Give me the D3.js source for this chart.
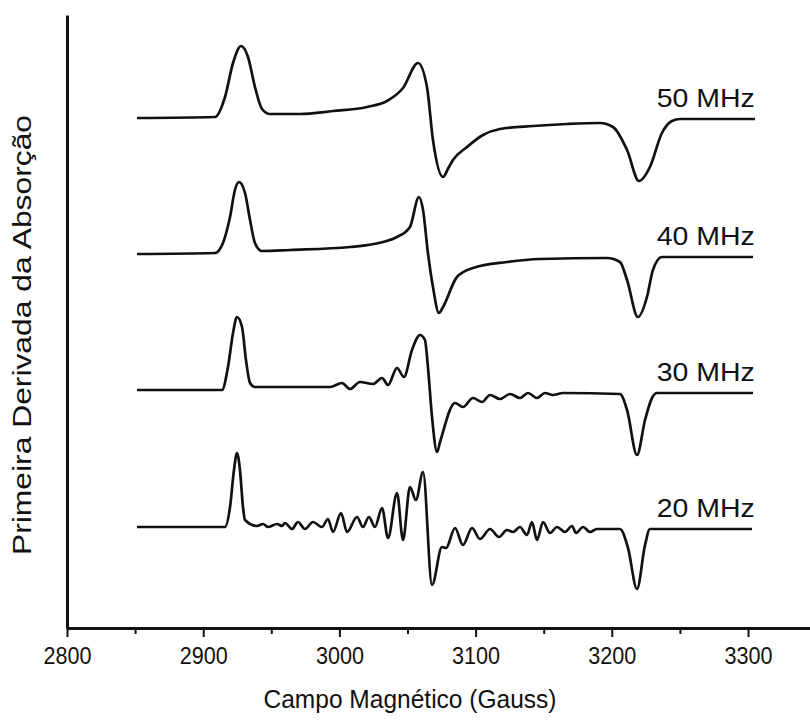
<!DOCTYPE html>
<html>
<head>
<meta charset="utf-8">
<script src="https://cdn.jsdelivr.net/npm/d3@7"></script>
<style>
  body { margin: 0; background: #fff; }
  svg { display: block; }
  text { font-family: "Liberation Sans", Arial, sans-serif; fill: #111; }
</style>
</head>
<body>
<div id="chart"></div>
<script>
// EPR spectra, first derivative, at four modulation frequencies
// field in Gauss, signal in arbitrary units relative to each baseline

const trace50 = [
  [2851.4, 0], [2908.7, 0.1], [2916.0, 2.1], [2921.9, 5.5], [2927.8, 7.2], [2932.9, 6.1],
  [2938.0, 3.1], [2943.2, 0.9], [2949.0, 0.4], [2971.1, 0.4], [2995.3, 0.7], [3020.3, 1.1],
  [3034.9, 1.7], [3046.7, 3.0], [3057.7, 5.5], [3064.3, 3.1], [3068.7, -2.2], [3076.1, -5.9],
  [3080.0, -5.0], [3083.4, -4.2], [3093.7, -2.9], [3105.4, -1.7], [3117.9, -1.1], [3142.1, -0.8],
  [3167.1, -0.6], [3191.3, -0.5], [3200.9, -0.9], [3211.2, -3.2], [3220.0, -6.3], [3228.0, -4.9],
  [3236.8, -1.5], [3244.2, -0.3], [3250.1, -0.1], [3305.1, -0.1]
];

const trace40 = [
  [2851.4, 0], [2908.7, 0.1], [2914.5, 1.1], [2919.7, 3.7], [2923.3, 6.4], [2926.3, 7.2],
  [2930.7, 6.1], [2934.4, 3.4], [2938.0, 1.1], [2943.2, 0.3], [2963.7, 0.4], [3007.8, 0.7],
  [3032.0, 1.2], [3042.3, 1.7], [3051.8, 2.7], [3058.4, 5.7], [3061.4, 4.4], [3065.0, 0.1],
  [3068.7, -3.3], [3073.1, -5.9], [3076.1, -5.3], [3086.3, -2.3], [3098.1, -1.4], [3123.0, -0.8],
  [3147.3, -0.5], [3196.5, -0.4], [3206.0, -0.8], [3211.2, -2.6], [3219.2, -6.3], [3225.8, -4.3],
  [3230.2, -1.6], [3236.8, -0.3], [3303.7, -0.3]
];

const trace30 = [
  [2851.4, 0], [2913.8, 0], [2918.2, 2.3], [2921.9, 5.7], [2924.8, 7.3], [2928.5, 6.3],
  [2931.4, 3.0], [2934.4, 0.7], [2938.0, 0.3], [2963.7, 0.3], [2993.1, 0.3], [3001.9, 0.7],
  [3007.8, 0.1], [3015.1, 0.8], [3024.7, 0.6], [3031.3, 1.2], [3035.7, 0.5], [3042.3, 2.2],
  [3047.4, 1.3], [3053.3, 4.0], [3059.2, 5.5], [3062.8, 5.0], [3065.0, 2.3], [3068.0, -2.7],
  [3071.7, -6.2], [3073.9, -5.2], [3084.9, -1.3], [3090.7, -1.7], [3098.1, -0.8], [3104.7, -1.2],
  [3110.6, -0.5], [3117.9, -0.9], [3125.3, -0.4], [3132.6, -0.8], [3138.5, -0.3], [3145.1, -0.8],
  [3150.9, -0.3], [3156.8, -0.5], [3164.2, -0.3], [3206.0, -0.4], [3211.2, -2.0], [3218.5, -6.5],
  [3224.4, -3.0], [3229.5, -0.8], [3233.2, -0.3], [3303.7, -0.3]
];

const trace20 = [
  [2851.4, 0], [2916.0, 0], [2919.7, 2.0], [2922.6, 5.7], [2924.8, 7.4], [2927.0, 5.7],
  [2929.2, 2.0], [2930.7, 0.7], [2939.5, 0.1], [2943.9, 0.3], [2947.6, 0], [2954.2, 0.3],
  [2957.9, 0.1], [2960.1, 0.4], [2965.2, -0.2], [2969.6, 0.5], [2974.7, -0.2], [2980.6, 0.5],
  [2987.2, 0], [2991.6, 0.8], [2995.3, -0.5], [3001.2, 1.4], [3005.6, -0.5], [3012.9, 1.0],
  [3017.3, 0], [3021.7, 1.0], [3026.1, 0], [3031.3, 1.9], [3035.7, -1.1], [3042.3, 3.4],
  [3046.7, -1.3], [3051.8, 4.0], [3056.2, 2.7], [3061.4, 5.5], [3068.0, -5.8], [3075.3, -2.0],
  [3078.3, -2.1], [3084.9, -0.1], [3090.7, -1.8], [3097.4, -0.1], [3103.2, -1.2], [3110.6, -0.2],
  [3117.2, -1.0], [3123.0, -0.3], [3127.5, -0.5], [3132.6, 0], [3137.7, -0.8], [3141.4, 0.5],
  [3145.1, -1.3], [3149.5, 0.5], [3154.6, -0.6], [3159.8, 0], [3165.6, -0.5], [3170.8, 0.1],
  [3173.7, -0.6], [3178.9, 0], [3184.0, -0.5], [3189.1, -0.2], [3206.0, -0.2], [3211.9, -2.1],
  [3218.5, -6.2], [3224.4, -1.8], [3228.0, -0.2], [3302.9, -0.2]
];

const traces = [trace50, trace40, trace30, trace20];
const labels = ["50 MHz", "40 MHz", "30 MHz", "20 MHz"];
const offsets = [51.0, 37.4, 23.8, 10.1];
const majorTicks = [2800, 2900, 3000, 3100, 3200, 3300];
const minorTicks = [2850, 2950, 3050, 3150, 3250, 3350];

const width = 810, height = 721;
const margin = {top: 15, left: 67, bottom: 93};

const svg = d3.select("#chart").append("svg")
    .attr("width", width)
    .attr("height", height);

const x = d3.scaleLinear()
    .domain([2800, 3300])
    .range([margin.left, 748]);

const y = d3.scaleLinear()
    .domain([0, 61.3])
    .range([height - margin.bottom, margin.top]);

const line = d3.line()
    .x(d => x(d[0]))
    .y(d => d[1])
    .curve(d3.curveMonotoneX);

// spectra
traces.forEach((tr, i) => {
    svg.append("path")
        .datum(tr.map(d => [d[0], y(d[1] + offsets[i])]))
        .attr("fill", "none")
        .attr("stroke", "#111")
        .attr("stroke-width", 2.7)
        .attr("stroke-linejoin", "round")
        .attr("d", line);

    let last = tr[tr.length - 1];
    svg.append("text")
        .attr("x", x(3305))
        .attr("y", y(offsets[i] + last[1]) - 12)
        .attr("text-anchor", "end")
        .attr("font-size", 25)
        .attr("textLength", 98)
        .attr("lengthAdjust", "spacingAndGlyphs")
        .text(labels[i]);
});

// x axis
const xFull = x.copy().domain([2800, 3360]).range([margin.left, x(3360)]);

const gx = svg.append("g")
    .attr("transform", `translate(0,${height - margin.bottom})`)
    .call(d3.axisBottom(xFull).tickValues(majorTicks).tickSize(9).tickSizeOuter(0).tickFormat(d3.format("d")));

gx.attr("font-size", null).attr("font-family", null);
gx.select(".domain").attr("stroke", "#111").attr("stroke-width", 3);
gx.selectAll(".tick line").attr("stroke", "#111").attr("stroke-width", 2);
gx.selectAll(".tick text")
    .style("font-size", "23px")
    .attr("dy", "1.05em")
    .attr("textLength", 48)
    .attr("lengthAdjust", "spacingAndGlyphs")
    .attr("fill", "#111");

svg.append("g")
    .attr("transform", `translate(0,${height - margin.bottom})`)
    .call(d3.axisBottom(xFull).tickValues(minorTicks).tickSize(6).tickFormat(""))
    .call(g => g.select(".domain").remove())
    .selectAll(".tick line").attr("stroke", "#111").attr("stroke-width", 2);

// y axis (no ticks)
svg.append("g")
    .attr("transform", `translate(${margin.left},0)`)
    .call(d3.axisLeft(y).tickValues([]).tickSizeOuter(0))
    .select(".domain").attr("stroke", "#111").attr("stroke-width", 3);

// titles
svg.append("text")
    .attr("x", 410)
    .attr("y", 708)
    .attr("text-anchor", "middle")
    .attr("font-size", 25)
    .attr("textLength", 293)
    .attr("lengthAdjust", "spacingAndGlyphs")
    .text("Campo Magnético (Gauss)");

svg.append("text")
    .attr("transform", "translate(31,335) rotate(-90)")
    .attr("text-anchor", "middle")
    .attr("font-size", 25)
    .attr("textLength", 440)
    .attr("lengthAdjust", "spacingAndGlyphs")
    .text("Primeira Derivada da Absorção");
</script>
</body>
</html>
